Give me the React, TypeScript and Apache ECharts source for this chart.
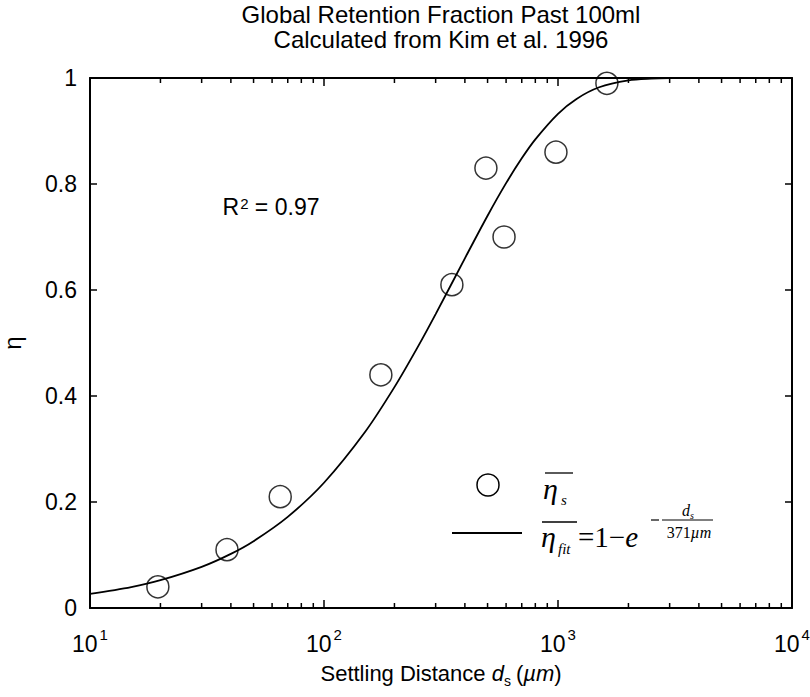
import React, { useEffect, useRef } from "react";
import * as echarts from "echarts";

// Measured points: settling distance (µm) and global retention fraction η̄s
const distances = [19.5, 38.5, 65, 175, 352, 492, 588, 980, 1618];
const etaMeasured = [0.04, 0.11, 0.21, 0.44, 0.61, 0.83, 0.7, 0.86, 0.99];

// Fit curve η̄fit = 1 − exp(−ds / 371 µm)
const fitDistances = [10, 15, 20, 30, 40, 50, 70, 100, 150, 200, 250, 300, 400, 500, 600, 700, 800, 1000, 1200, 1500, 2000, 2500, 3000, 5000, 10000];
const fitEta = [0.0266, 0.0396, 0.0525, 0.0777, 0.1022, 0.1261, 0.172, 0.2363, 0.3325, 0.4167, 0.4903, 0.5545, 0.6598, 0.7402, 0.8016, 0.8485, 0.8843, 0.9325, 0.9606, 0.9825, 0.9955, 0.9988, 0.9997, 1.0, 1.0];

// Minor log ticks (2..9 × 10^k)
const minorTicks = [20, 30, 40, 50, 60, 70, 80, 90, 200, 300, 400, 500, 600, 700, 800, 900, 2000, 3000, 4000, 5000, 6000, 7000, 8000, 9000];

const titleLines = ["Global Retention Fraction Past 100ml", "Calculated from Kim et al. 1996"];
const rSquared = "0.97";

const SANS = "Liberation Sans";
const SERIF = "Liberation Serif";

export default function App() {
  const ref = useRef<HTMLDivElement>(null);
  useEffect(() => {
    if (!ref.current) return;
    const chart = echarts.init(ref.current, null, { renderer: "svg" });
    const axisLine = { show: true, onZero: false, lineStyle: { color: "#000", width: 2 } };
    const axisTick = { show: true, inside: true, length: 8, lineStyle: { color: "#000", width: 1.5 } };
    const option: any = {
      animation: false,
      backgroundColor: "#fff",
      grid: { left: 90, top: 78, width: 702, height: 530, containLabel: false, outerBoundsMode: "none" },
      xAxis: [
        {
          type: "log",
          logBase: 10,
          min: 10,
          max: 10000,
          position: "bottom",
          axisLine,
          axisTick,
          splitLine: { show: false },
          minorTick: { show: false },
          axisLabel: {
            margin: 19,
            formatter: (v: number) => `{b|10}{s|${Math.round(Math.log10(v))}}`,
            rich: {
              b: { fontSize: 23, fontFamily: SANS, color: "#000", verticalAlign: "bottom" },
              s: { fontSize: 15, fontFamily: SANS, color: "#000", padding: [0, 0, 13, 2], verticalAlign: "bottom" },
            },
          },
          name: "{a|Settling Distance }{i|d}{sub|s}{a|(}{i|µm}{a|)}",
          nameLocation: "middle",
          nameGap: 54,
          nameTextStyle: {
            rich: {
              a: { fontSize: 22, fontFamily: SANS, color: "#000", verticalAlign: "bottom", padding: [0, 0, 4, 0] },
              i: { fontSize: 22, fontFamily: SANS, fontStyle: "italic", color: "#000", verticalAlign: "bottom", padding: [0, 0, 4, 0] },
              sub: { fontSize: 14, fontFamily: SANS, color: "#000", verticalAlign: "bottom", padding: [0, 5, 0, 0] },
            },
          },
        },
        {
          type: "log",
          logBase: 10,
          min: 10,
          max: 10000,
          position: "top",
          axisLine,
          axisTick,
          axisLabel: { show: false },
          splitLine: { show: false },
        },
      ],
      yAxis: [
        {
          type: "value",
          min: 0,
          max: 1,
          interval: 0.2,
          position: "left",
          axisLine,
          axisTick: { ...axisTick, length: 7 },
          splitLine: { show: false },
          axisLabel: { margin: 13, fontSize: 23, fontFamily: SANS, color: "#000" },
          name: "η",
          nameLocation: "middle",
          nameRotate: 90,
          nameGap: 68,
          nameTextStyle: { fontSize: 24, lineHeight: 20, fontFamily: SANS, color: "#000" },
        },
        {
          type: "value",
          min: 0,
          max: 1,
          interval: 0.2,
          position: "right",
          axisLine,
          axisTick: { ...axisTick, length: 7 },
          splitLine: { show: false },
          axisLabel: { show: false },
        },
      ],
      series: [
        {
          type: "custom",
          xAxisIndex: 0,
          yAxisIndex: 0,
          data: minorTicks.map((v) => [v, 0]),
          encode: { x: 0, y: 1 },
          silent: true,
          renderItem: (params: any, api: any) => {
            const v = api.value(0);
            const b = api.coord([v, 0]);
            const t = api.coord([v, 1]);
            const style = { stroke: "#000", lineWidth: 1.5 };
            return {
              type: "group",
              children: [
                { type: "line", shape: { x1: b[0], y1: b[1], x2: b[0], y2: b[1] - 5 }, style },
                { type: "line", shape: { x1: t[0], y1: t[1], x2: t[0], y2: t[1] + 5 }, style },
              ],
            };
          },
        },
        {
          type: "line",
          data: fitDistances.map((d, i) => [d, fitEta[i]]),
          showSymbol: false,
          smooth: 0.3,
          lineStyle: { color: "#000", width: 1.8 },
          z: 3,
        },
        {
          type: "scatter",
          data: distances.map((d, i) => [d, etaMeasured[i]]),
          symbol: "circle",
          symbolSize: 22,
          itemStyle: { color: "rgba(0,0,0,0)", borderColor: "#000", borderWidth: 1.5 },
          z: 4,
        },
      ],
      graphic: [
        {
          type: "text",
          x: 441,
          y: 27,
          style: {
            text: titleLines.join("\n"),
            font: `24px ${SANS}`,
            fill: "#000",
            textAlign: "center",
            textVerticalAlign: "middle",
            lineHeight: 25,
          },
        },
        {
          type: "text",
          x: 271,
          y: 207,
          style: {
            text: `{a|R}{s|2}{a| = ${rSquared}}`,
            textAlign: "center",
            textVerticalAlign: "middle",
            rich: {
              a: { fontSize: 23, fontFamily: SANS, fill: "#000", verticalAlign: "bottom" } as any,
              s: { fontSize: 15, fontFamily: SANS, fill: "#000", padding: [0, 0, 8, 1], verticalAlign: "bottom" } as any,
            },
          },
        },
        // Legend: marker
        { type: "circle", shape: { cx: 488, cy: 485, r: 11 }, style: { fill: "none", stroke: "#000", lineWidth: 1.5 } },
        { type: "line", shape: { x1: 545, y1: 473, x2: 573, y2: 473 }, style: { stroke: "#000", lineWidth: 1.3 } },
        { type: "text", x: 543, y: 488.5, style: { text: "η", font: `italic 30px ${SERIF}`, fill: "#000", textVerticalAlign: "middle" } },
        { type: "text", x: 561, y: 500, style: { text: "s", font: `italic 15px ${SERIF}`, fill: "#000", textVerticalAlign: "middle" } },
        // Legend: line
        { type: "line", shape: { x1: 452, y1: 533, x2: 522, y2: 533 }, style: { stroke: "#000", lineWidth: 1.8 } },
        { type: "line", shape: { x1: 542, y1: 522, x2: 577, y2: 522 }, style: { stroke: "#000", lineWidth: 1.3 } },
        { type: "text", x: 541, y: 536.5, style: { text: "η", font: `italic 30px ${SERIF}`, fill: "#000", textVerticalAlign: "middle" } },
        { type: "text", x: 558, y: 549, style: { text: "fit", font: `italic 15px ${SERIF}`, fill: "#000", textVerticalAlign: "middle" } },
        {
          type: "text",
          x: 578,
          y: 537,
          style: {
            text: "{u|=1−}{i|e}",
            textVerticalAlign: "middle",
            rich: {
              u: { fontSize: 29, fontFamily: SERIF, fill: "#000" } as any,
              i: { fontSize: 29, fontFamily: SERIF, fontStyle: "italic", fill: "#000" } as any,
            },
          },
        },
        { type: "line", shape: { x1: 651, y1: 520, x2: 659, y2: 520 }, style: { stroke: "#000", lineWidth: 1.2 } },
        { type: "line", shape: { x1: 662, y1: 520, x2: 713, y2: 520 }, style: { stroke: "#000", lineWidth: 1 } },
        { type: "text", x: 682, y: 510, style: { text: "d", font: `italic 16px ${SERIF}`, fill: "#000", textVerticalAlign: "middle" } },
        { type: "text", x: 690, y: 515, style: { text: "s", font: `italic 10px ${SERIF}`, fill: "#000", textVerticalAlign: "middle" } },
        {
          type: "text",
          x: 689,
          y: 532,
          style: {
            text: "{u|371}{i|µm}",
            textAlign: "center",
            textVerticalAlign: "middle",
            rich: {
              u: { fontSize: 16, fontFamily: SERIF, fill: "#000" } as any,
              i: { fontSize: 16, fontFamily: SERIF, fontStyle: "italic", fill: "#000" } as any,
            },
          },
        },
      ],
    };
    chart.setOption(option);
    return () => chart.dispose();
  }, []);
  return (
    <div
      ref={ref}
      style={{ position: "fixed", left: 0, top: 0, width: 810, height: 697, background: "#fff" }}
    />
  );
}
